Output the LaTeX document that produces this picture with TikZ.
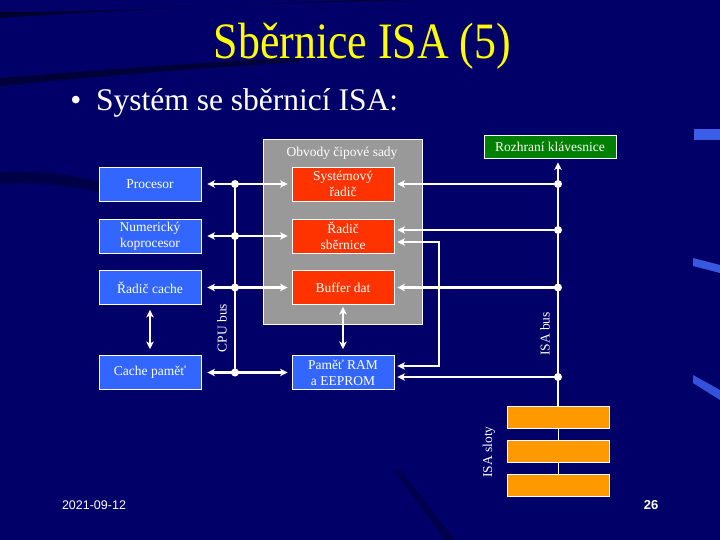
\documentclass[tikz,border=0pt]{standalone}
\usepackage{fontspec}
\setmainfont{Liberation Serif}
\newfontfamily\footfont{Liberation Sans}
\usetikzlibrary{arrows.meta,calc}
\definecolor{bgblue}{RGB}{0,0,104}
\definecolor{boxblue}{RGB}{51,102,255}
\definecolor{boxred}{RGB}{255,51,0}
\definecolor{chipgray}{RGB}{153,153,153}
\definecolor{kbdgreen}{RGB}{0,128,0}
\definecolor{slotorange}{RGB}{255,153,0}
\definecolor{titleyellow}{RGB}{255,255,0}
\definecolor{glint}{RGB}{70,110,255}
\tikzset{
  boxtext/.style={font=\fontsize{13.5}{16}\selectfont, text=white, align=center, inner sep=0pt},
  unit/.style={boxtext, draw=white, line width=0.9pt, minimum width=102pt, minimum height=34pt},
  bluebox/.style={unit, fill=boxblue},
  redbox/.style={unit, fill=boxred},
  slotbox/.style={draw=white, line width=0.9pt, fill=slotorange, minimum width=102pt, minimum height=22pt, inner sep=0pt},
  wire/.style={draw=white, line width=2.1pt},
  biarrow/.style={wire, {Stealth[length=7.5pt,width=7.5pt,inset=2pt]}-{Stealth[length=7.5pt,width=7.5pt,inset=2pt]}},
  toarrow/.style={wire, -{Stealth[length=7.5pt,width=7.5pt,inset=2pt]}},
  busdot/.style={circle, fill=white, inner sep=0pt, minimum size=8pt},
  buslabel/.style={boxtext, rotate=90}
}
\begin{document}
\begin{tikzpicture}[x=1pt,y=-1pt]
\useasboundingbox (0,0) rectangle (720,540);
% background
\fill[bgblue] (0,0) rectangle (720,540);
\fill[black,opacity=0.55] (0,18) .. controls (150,8) and (300,2) .. (420,0) -- (360,0) .. controls (250,4) and (120,12) .. (0,12) -- cycle;
\fill[black,opacity=0.45] (0,78) .. controls (100,70) and (200,62) .. (300,58) -- (300,62) .. controls (200,68) and (100,76) .. (0,86) -- cycle;
\fill[black,opacity=0.3] (0,172) .. controls (40,170) and (80,176) .. (100,182) -- (100,192) .. controls (70,186) and (40,182) .. (0,184) -- cycle;
\fill[black,opacity=0.25] (400,470) .. controls (420,495) and (440,520) .. (455,540) -- (445,540) .. controls (430,520) and (412,495) .. (395,470) -- cycle;
\fill[glint,opacity=0.85] (694,129) rectangle (720,140);
\fill[glint,opacity=0.8] (693,258) -- (720,265) -- (720,273) -- (693,266) -- cycle;
\fill[glint,opacity=0.75] (693,375) -- (720,390) -- (720,400) -- (693,383) -- cycle;

% title and subtitle
\node[anchor=base, text=titleyellow, font=\fontsize{51}{56}\selectfont, inner sep=0pt] (title) at (362.5,59) {\scalebox{0.86}[1]{Sběrnice ISA (5)}};
\node[anchor=base, text=white, font=\fontsize{31.5}{36}\selectfont, inner sep=0pt] (bullet) at (76,111) {•};
\node[anchor=base west, text=white, font=\fontsize{31.5}{36}\selectfont, inner sep=0pt] (subtitle) at (96,111) {Systém se sběrnicí ISA:};

% chipset area
\node[fill=chipgray, draw=white, line width=0.9pt, minimum width=159pt, minimum height=185pt, inner sep=0pt] (chip) at (342.5,231.5) {};
\node[boxtext] (chiplabel) at (342,153) {Obvody čipové sady};

% units
\node[bluebox] (proc) at (150,184) {Procesor};
\node[bluebox] (nump) at (150,236) {Numerický\\koprocesor};
\node[bluebox] (rcache) at (150,287.5) {Řadič cache};
\node[bluebox] (cmem) at (150,372.5) {Cache paměť};
\node[redbox] (sysr) at (343,184) {Systémový\\řadič};
\node[redbox] (rsb) at (343,236) {Řadič\\sběrnice};
\node[redbox] (buf) at (343,287.5) {Buffer dat};
\node[bluebox] (ram) at (343,372.5) {Paměť RAM\\a EEPROM};
\node[boxtext, draw=white, line width=0.9pt, fill=kbdgreen, minimum width=132pt, minimum height=23pt] (kbd) at (550,146.5) {Rozhraní klávesnice};

% ISA slots
\node[slotbox] (s1) at (558,417) {};
\node[slotbox] (s2) at (558,451) {};
\node[slotbox] (s3) at (558,485.5) {};

% CPU bus
\coordinate (c1) at (235,184);
\coordinate (c2) at (235,236);
\coordinate (c3) at (235,287.5);
\coordinate (c4) at (235,372.5);
\draw[wire, line width=1.8pt] (c1) -- (c4);
\draw[biarrow, shorten <=6pt, shorten >=4pt] (proc) -- (sysr);
\draw[biarrow, shorten <=6pt, shorten >=4pt] (nump) -- (rsb);
\draw[biarrow, shorten <=6pt, shorten >=4pt] (rcache) -- (buf);
\draw[biarrow, shorten <=6pt, shorten >=4pt] (cmem) -- (ram);
\foreach \c in {c1,c2,c3,c4} \node[busdot] at (\c) {};
\node[buslabel] (cpulabel) at (222,328) {CPU bus};

% vertical links
\draw[biarrow, shorten <=5pt, shorten >=6pt] (rcache) -- (cmem);
\draw[biarrow, shorten <=2pt, shorten >=6pt] (buf) -- (ram);

% ISA bus
\coordinate (i1) at (558,184);
\coordinate (i2) at (558,230);
\coordinate (i3) at (558,287.5);
\coordinate (i4) at (558,377);
\draw[toarrow, shorten >=4pt] (i4) -- (kbd.south -| i4);
\draw[toarrow, shorten >=3pt] (i1) -- (sysr.east |- i1);
\draw[toarrow, shorten >=3pt] (i2) -- (rsb.east |- i2);
\draw[toarrow, shorten >=3pt] (i3) -- (buf.east |- i3);
\draw[toarrow, shorten >=3pt] (i4) -- (ram.east |- i4);
\foreach \c in {i1,i2,i3,i4} \node[busdot] at (\c) {};
\node[buslabel] (isalabel) at (545,334) {ISA bus};

% loop between Řadič sběrnice and Paměť RAM
\coordinate (la) at ($(rsb.east)+(0,6)$);
\coordinate (lb) at ($(ram.east)+(0,-6.5)$);
\coordinate (lx) at (439,0);
\draw[biarrow, line width=1.6pt, shorten <=3pt, shorten >=3pt] (la) -- (la -| lx) -- (lb -| lx) -- (lb);

% slot connectors
\draw[draw=white, line width=1.8pt] (i4) -- (s1.north -| i4);
\draw[draw=white, line width=0.8pt] (s1.south) -- (s2.north);
\draw[draw=white, line width=0.8pt] (s2.south) -- (s3.north);
\node[buslabel] (slotlabel) at (489,452) {ISA sloty};

% footer
\node[text=white, font=\footfont\fontsize{12.5}{14}\selectfont, inner sep=0pt] (date) at (94,505) {2021-09-12};
\node[text=white, font=\footfont\bfseries\fontsize{13}{14}\selectfont, inner sep=0pt] (page) at (651,505) {26};
\end{tikzpicture}
\end{document}
